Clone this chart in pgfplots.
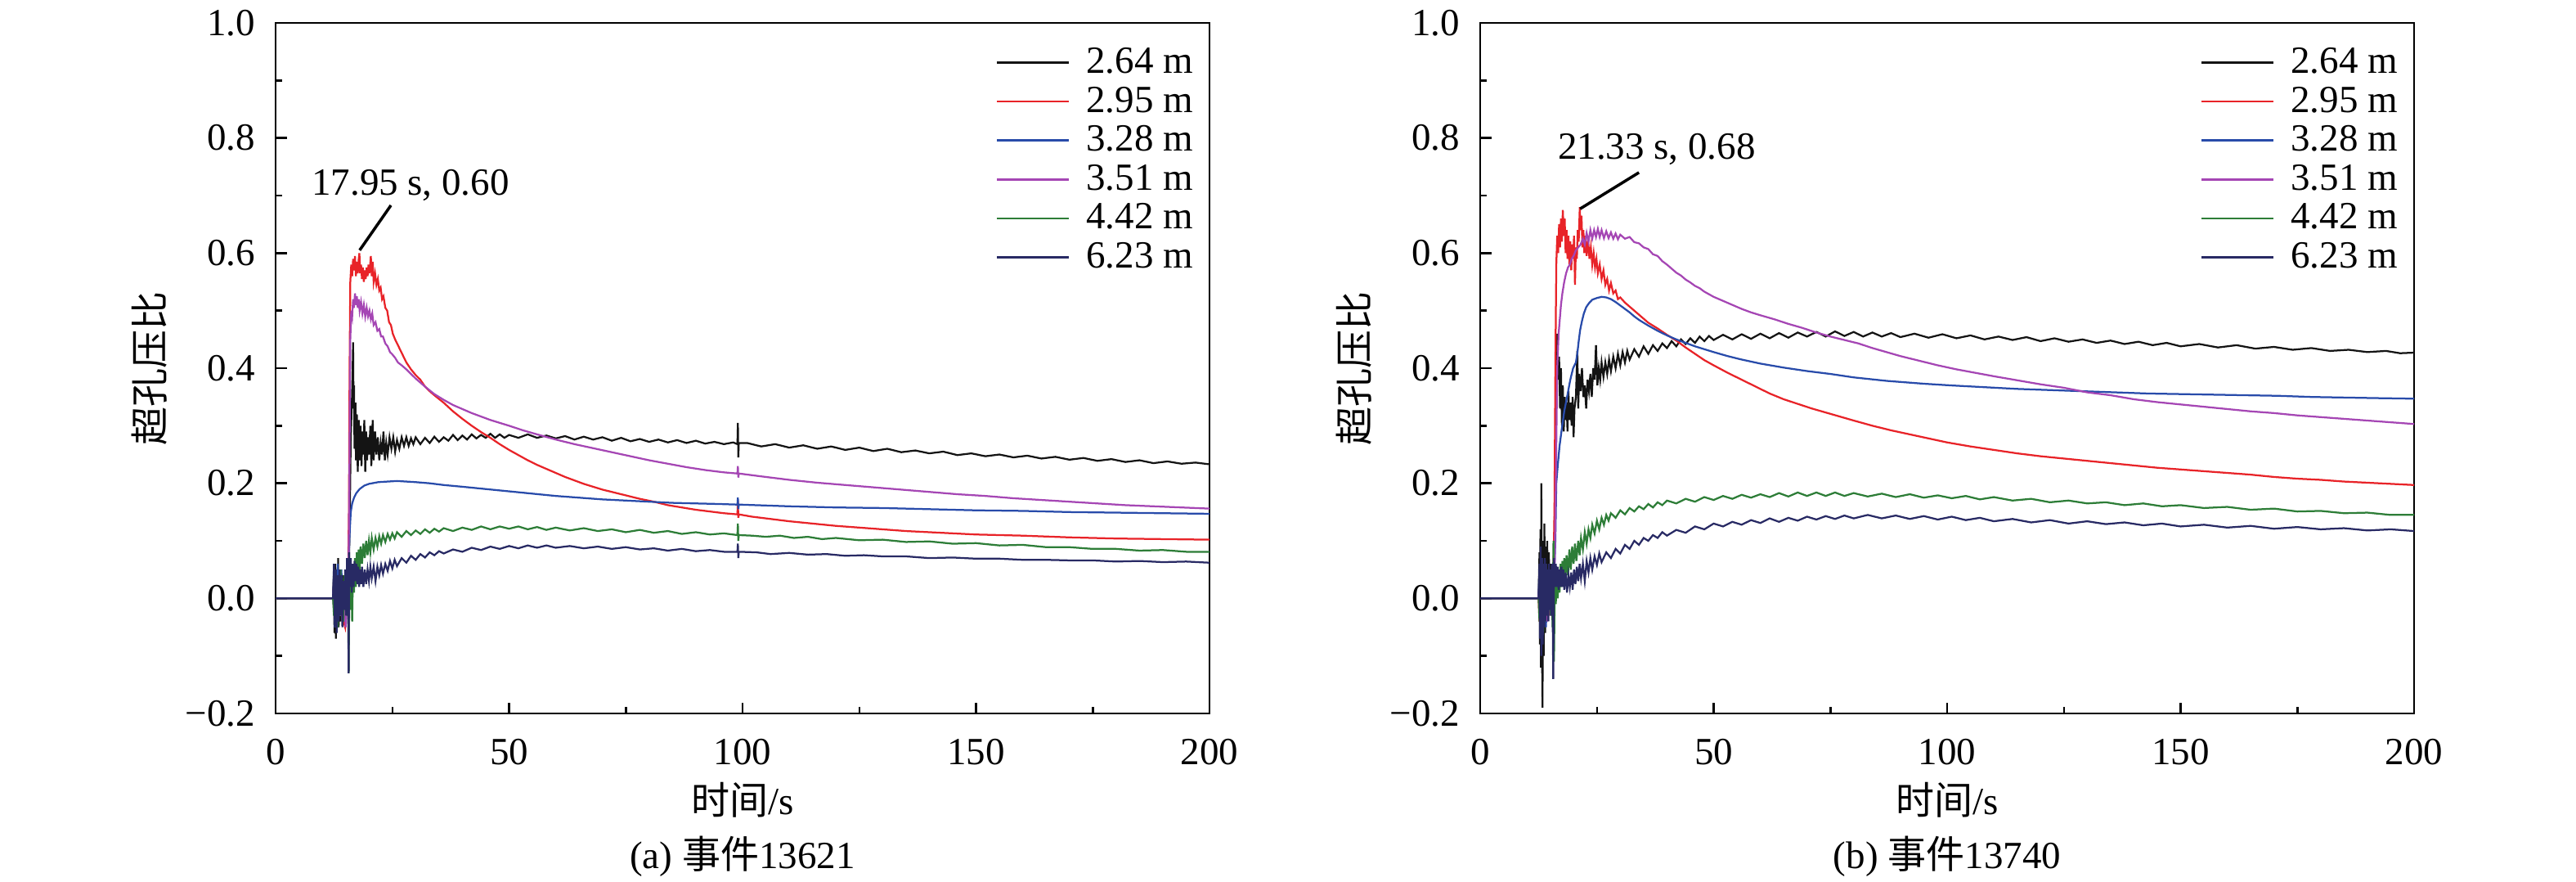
\documentclass[border=0pt]{standalone}
\usepackage{fontspec}
\setmainfont{Liberation Serif}
\newfontfamily\cjk{Noto Sans CJK SC}
\usepackage{pgfplots}
\pgfplotsset{compat=1.18}
\newcommand\fs{\fontsize{9.4}{10}\selectfont}
\definecolor{cblack}{RGB}{20,20,20}
\definecolor{cred}{RGB}{232,35,40}
\definecolor{cblue}{RGB}{40,75,170}
\definecolor{cpurple}{RGB}{165,70,180}
\definecolor{cgreen}{RGB}{45,125,55}
\definecolor{cnavy}{RGB}{40,42,100}
\pgfplotsset{
  myax/.style={scale only axis, width=228.4pt, height=168.8pt, anchor=south west,
    xmin=0, xmax=200, ymin=-0.2, ymax=1.0,
    xtick={0,50,100,150,200}, xticklabels={0,50,100,150,200},
    ytick={-0.2,0,0.2,0.4,0.6,0.8,1.0}, yticklabels={−0.2,0.0,0.2,0.4,0.6,0.8,1.0},
    minor x tick num=1, minor y tick num=1,
    tick align=inside, xtick pos=left, ytick pos=left,
    major tick length=2.7pt, minor tick length=1.6pt,
    every tick/.style={black, line width=0.5pt},
    axis line style={line width=0.55pt},
    tick label style={font=\fs},
    yticklabel style={inner sep=0pt, xshift=-4.8pt},
    xticklabel style={inner sep=0pt, yshift=-6pt},
    label style={font=\fs},
    ylabel={{\cjk 超孔压比}},
    xlabel={{\cjk 时间}/s},
    ylabel style={at={(axis description cs:-0.1349,0.5)}, anchor=center},
    xlabel style={at={(axis description cs:0.5,-0.1256)}, anchor=center},
    legend style={draw=none, fill=none, at={(1,1)}, anchor=north east,
      xshift=-3.8pt, yshift=-5.6pt, inner sep=0pt, row sep=1.72pt, font=\fs,
      nodes={inner sep=0pt, text height=6.5pt, text depth=1.3pt}},
    legend cell align=left,
    legend image code/.code={\draw[#1, line width=0.5pt] (0pt,0pt) -- (17.6pt,0pt); \path (21.6pt,0pt);},
    every axis plot/.append style={line width=0.45pt},
  }
}
\begin{document}
\begin{tikzpicture}
\useasboundingbox (0,0) rectangle (630pt,215.4pt);
% ---------------- (a) ----------------
\begin{axis}[myax, at={(67.4pt,41.0pt)}]
\addplot[cblack] coordinates {(0,0) (12.3,0) (12.5,0.05) (12.6,-0.06) (12.8,0.06) (12.9,-0.07) (13.1,0.04) (13.2,-0.03) (13.4,0.07) (13.5,-0.05) (13.7,0.05) (13.9,-0.04) (14.1,0.03) (14.3,-0.02) (14.5,0.04) (14.7,-0.03) (14.9,0.03) (15.1,-0.02) (15.3,0.05) (15.5,0.02) (15.7,0.05) (15.9,0.15) (16.1,0.28) (16.3,0.33) (16.5,0.40) (16.6,0.445) (16.7,0.33) (16.8,0.37) (16.9,0.26) (17.1,0.34) (17.2,0.24) (17.4,0.32) (17.6,0.22) (17.8,0.31) (18.0,0.24) (18.2,0.30) (18.4,0.23) (18.6,0.29) (18.8,0.25) (19.0,0.31) (19.2,0.22) (19.4,0.29) (19.6,0.24) (19.8,0.28) (20.0,0.25) (20.3,0.30) (20.5,0.23) (20.8,0.31) (21.0,0.24) (21.3,0.29) (21.6,0.25) (21.9,0.28) (22.2,0.24) (22.5,0.27) (22.8,0.25) (23.1,0.29) (23.4,0.24) (23.7,0.27) (24.0,0.25) (24.4,0.28) (24.8,0.26) (25.2,0.28) (25.6,0.255) (26.0,0.275) (26.5,0.26) (27.0,0.28) (27.5,0.265) (28.0,0.28) (28.5,0.265) (29.0,0.278) (29.5,0.268) (30,0.28) (31,0.268) (32,0.279) (33,0.27) (34,0.281) (35,0.272) (36,0.28) (37,0.274) (38,0.284) (39,0.275) (40,0.283) (41,0.276) (42,0.285) (43,0.278) (44,0.284) (45,0.279) (46,0.286) (47,0.279) (48,0.285) (49,0.279) (50,0.284) (52,0.279) (54,0.285) (56,0.279) (58,0.283) (60,0.278) (62,0.282) (64,0.276) (66,0.281) (68,0.276) (70,0.280) (72,0.274) (74,0.279) (76,0.273) (78,0.277) (80,0.272) (82,0.276) (84,0.271) (86,0.275) (88,0.270) (90,0.274) (92,0.269) (94,0.272) (96,0.268) (98,0.271) (98.9,0.268) (99.0,0.305) (99.1,0.245) (99.2,0.27) (101,0.27) (104,0.264) (107,0.268) (110,0.262) (113,0.266) (116,0.26) (119,0.264) (122,0.258) (125,0.262) (128,0.256) (131,0.26) (134,0.254) (137,0.257) (140,0.252) (143,0.255) (146,0.249) (149,0.252) (152,0.247) (155,0.25) (158,0.245) (161,0.248) (164,0.243) (167,0.246) (170,0.241) (173,0.244) (176,0.239) (179,0.242) (182,0.237) (185,0.24) (188,0.235) (191,0.238) (194,0.234) (197,0.236) (200,0.233)};
\addlegendentry{2.64 m}
\addplot[cred] coordinates {(0,0) (12.3,0) (12.5,0.03) (12.7,-0.04) (12.9,0.02) (13.1,-0.05) (13.3,0.03) (13.5,-0.02) (13.8,0.02) (14.0,-0.03) (14.3,0.01) (14.6,-0.04) (14.9,-0.05) (15.2,-0.02) (15.5,0.02) (15.7,0.15) (15.85,0.40) (16.0,0.55) (16.2,0.58) (16.4,0.56) (16.6,0.59) (16.8,0.57) (17.0,0.595) (17.2,0.56) (17.4,0.585) (17.6,0.565) (17.8,0.59) (17.95,0.60) (18.1,0.565) (18.3,0.58) (18.5,0.555) (18.7,0.575) (18.9,0.55) (19.1,0.57) (19.3,0.555) (19.5,0.575) (19.7,0.56) (19.9,0.58) (20.1,0.565) (20.4,0.595) (20.6,0.56) (20.8,0.585) (21.0,0.55) (21.3,0.565) (21.6,0.545) (21.9,0.555) (22.2,0.535) (22.5,0.54) (22.8,0.52) (23.1,0.525) (23.5,0.505) (23.9,0.50) (24.3,0.48) (24.7,0.475) (25.1,0.46) (25.6,0.45) (26.2,0.44) (26.8,0.43) (27.4,0.42) (28,0.41) (29,0.398) (30,0.388) (31,0.38) (32,0.368) (33,0.36) (34,0.353) (36,0.34) (38,0.325) (40,0.312) (42,0.300) (44,0.289) (46,0.279) (48,0.268) (50,0.258) (52,0.249) (54,0.240) (56,0.232) (58,0.225) (60,0.218) (62,0.211) (64,0.205) (66,0.199) (68,0.194) (70,0.189) (72,0.185) (75,0.179) (78,0.173) (81,0.168) (84,0.162) (87,0.158) (90,0.154) (93,0.151) (96,0.148) (98.9,0.146) (99,0.17) (99.1,0.14) (99.2,0.146) (102,0.142) (106,0.138) (110,0.134) (115,0.13) (120,0.126) (125,0.123) (130,0.12) (135,0.117) (140,0.115) (145,0.113) (150,0.111) (160,0.109) (170,0.106) (180,0.104) (190,0.103) (200,0.102)};
\addlegendentry{2.95 m}
\addplot[cblue] coordinates {(0,0) (12.3,0) (12.5,0.04) (12.7,-0.05) (12.9,0.05) (13.1,-0.04) (13.3,0.06) (13.5,-0.03) (13.7,0.04) (13.9,-0.03) (14.1,0.05) (14.3,-0.02) (14.5,0.03) (14.7,-0.04) (14.9,0.02) (15.1,-0.03) (15.3,0.06) (15.5,0.02) (15.7,0.08) (15.9,0.12) (16.1,0.15) (16.4,0.165) (16.8,0.175) (17.3,0.183) (18,0.19) (19,0.196) (20,0.199) (22,0.202) (24,0.203) (26,0.204) (28,0.203) (30,0.202) (33,0.200) (36,0.197) (40,0.194) (45,0.19) (50,0.186) (55,0.182) (60,0.178) (65,0.175) (70,0.172) (75,0.17) (80,0.168) (85,0.166) (90,0.165) (95,0.164) (98.9,0.163) (99,0.175) (99.1,0.155) (99.2,0.163) (110,0.16) (120,0.158) (130,0.157) (140,0.155) (150,0.153) (160,0.152) (170,0.150) (180,0.149) (190,0.148) (200,0.147)};
\addlegendentry{3.28 m}
\addplot[cpurple] coordinates {(0,0) (12.3,0) (12.5,-0.02) (12.7,0.03) (12.9,-0.05) (13.1,0.02) (13.3,-0.04) (13.5,0.03) (13.8,-0.03) (14.1,0.02) (14.4,-0.04) (14.7,0.01) (15.0,-0.05) (15.3,0.0) (15.6,0.03) (15.8,0.2) (16.0,0.45) (16.2,0.50) (16.4,0.49) (16.6,0.52) (16.8,0.505) (17.0,0.53) (17.2,0.51) (17.4,0.525) (17.6,0.505) (17.8,0.52) (18.0,0.50) (18.3,0.515) (18.6,0.495) (18.9,0.51) (19.2,0.49) (19.5,0.505) (19.8,0.49) (20.1,0.50) (20.4,0.485) (20.7,0.495) (21.0,0.475) (21.4,0.48) (21.8,0.465) (22.2,0.468) (22.6,0.455) (23.0,0.455) (23.5,0.443) (24,0.438) (24.5,0.428) (25,0.424) (25.6,0.418) (26.2,0.41) (27,0.405) (28,0.398) (29,0.39) (30,0.382) (31,0.375) (32,0.368) (34,0.355) (36,0.345) (38,0.336) (40,0.329) (42,0.322) (44,0.316) (46,0.31) (48,0.305) (50,0.30) (53,0.292) (56,0.285) (60,0.276) (64,0.268) (68,0.261) (72,0.254) (76,0.247) (80,0.240) (84,0.234) (88,0.228) (92,0.223) (96,0.219) (98.9,0.217) (99,0.23) (99.1,0.21) (99.2,0.217) (104,0.212) (110,0.206) (116,0.201) (122,0.197) (128,0.193) (134,0.189) (140,0.185) (146,0.181) (152,0.178) (158,0.174) (164,0.171) (170,0.168) (176,0.165) (182,0.162) (188,0.160) (194,0.158) (200,0.156)};
\addlegendentry{3.51 m}
\addplot[cgreen] coordinates {(0,0) (12.3,0) (12.5,-0.03) (12.7,0.04) (12.9,-0.04) (13.1,0.03) (13.3,-0.05) (13.5,0.04) (13.7,-0.03) (13.9,0.05) (14.1,-0.02) (14.3,0.03) (14.5,-0.04) (14.7,0.04) (14.9,-0.02) (15.1,0.05) (15.3,-0.03) (15.5,0.06) (15.65,-0.13) (15.8,0.03) (16.0,-0.02) (16.2,0.05) (16.4,-0.04) (16.6,0.06) (16.8,0.01) (17.0,0.07) (17.2,0.02) (17.4,0.08) (17.6,0.04) (17.8,0.085) (18.0,0.05) (18.2,0.09) (18.5,0.06) (18.8,0.095) (19.1,0.07) (19.4,0.10) (19.7,0.075) (20.0,0.10) (20.3,0.08) (20.6,0.105) (21,0.085) (21.4,0.105) (21.8,0.09) (22.2,0.108) (22.6,0.095) (23,0.11) (23.5,0.098) (24,0.112) (24.5,0.102) (25,0.113) (25.5,0.104) (26,0.115) (27,0.107) (28,0.117) (29,0.11) (30,0.118) (31,0.112) (32,0.12) (33,0.114) (34,0.121) (35,0.116) (36,0.122) (38,0.117) (40,0.123) (42,0.119) (44,0.125) (46,0.12) (48,0.125) (50,0.121) (52,0.125) (54,0.12) (56,0.124) (58,0.119) (60,0.123) (63,0.118) (66,0.122) (69,0.117) (72,0.12) (75,0.115) (78,0.119) (81,0.114) (84,0.117) (87,0.112) (90,0.115) (93,0.111) (96,0.113) (98.9,0.11) (99,0.13) (99.1,0.10) (99.2,0.11) (102,0.109) (105,0.107) (108,0.109) (111,0.105) (114,0.107) (117,0.103) (120,0.105) (125,0.101) (130,0.102) (135,0.098) (140,0.099) (145,0.095) (150,0.096) (155,0.092) (160,0.093) (165,0.089) (170,0.089) (175,0.086) (180,0.086) (185,0.083) (190,0.084) (195,0.081) (200,0.081)};
\addlegendentry{4.42 m}
\addplot[cnavy] coordinates {(0,0) (12.3,0) (12.5,0.06) (12.7,-0.05) (12.9,0.05) (13.1,-0.06) (13.3,0.04) (13.5,-0.04) (13.7,0.05) (13.9,-0.03) (14.1,0.04) (14.3,-0.05) (14.5,0.03) (14.7,-0.02) (14.9,0.05) (15.1,-0.03) (15.3,0.07) (15.5,0.02) (15.65,-0.13) (15.75,0.08) (15.9,0.02) (16.1,0.07) (16.3,0.01) (16.5,0.06) (16.7,0.02) (16.9,0.065) (17.1,0.03) (17.3,0.06) (17.5,0.025) (17.7,0.055) (17.9,0.02) (18.1,0.05) (18.3,0.025) (18.5,0.055) (18.8,0.02) (19.1,0.05) (19.4,0.025) (19.7,0.05) (20,0.03) (20.3,0.055) (20.6,0.035) (21,0.055) (21.4,0.03) (21.8,0.055) (22.2,0.04) (22.6,0.058) (23,0.043) (23.5,0.06) (24,0.048) (24.5,0.065) (25,0.052) (25.5,0.067) (26,0.056) (27,0.07) (28,0.062) (29,0.074) (30,0.067) (31,0.077) (32,0.071) (33,0.08) (34,0.075) (35,0.082) (36,0.078) (38,0.085) (40,0.081) (42,0.088) (44,0.084) (46,0.09) (48,0.086) (50,0.091) (52,0.087) (54,0.092) (56,0.088) (58,0.092) (60,0.088) (63,0.091) (66,0.087) (69,0.090) (72,0.086) (75,0.089) (78,0.085) (81,0.087) (84,0.083) (87,0.086) (90,0.082) (93,0.084) (96,0.081) (98.9,0.081) (99,0.095) (99.1,0.07) (99.2,0.081) (103,0.08) (106,0.077) (110,0.079) (114,0.076) (118,0.077) (122,0.074) (126,0.075) (130,0.073) (135,0.073) (140,0.07) (145,0.071) (150,0.069) (155,0.069) (160,0.067) (165,0.067) (170,0.066) (175,0.066) (180,0.064) (185,0.065) (190,0.063) (195,0.064) (200,0.062)};
\addlegendentry{6.23 m}
\draw[black, line width=0.7pt] (axis cs:24.7,0.683) -- (axis cs:18.0,0.605);
\node[font=\fs, inner sep=0pt] at (axis cs:28.9,0.718) {17.95 s, 0.60};
\end{axis}
\node[font=\fs, anchor=center] at (181.6pt,6.0pt) {(a) {\cjk 事件}13621};
% ---------------- (b) ----------------
\begin{axis}[myax, at={(362pt,41.0pt)}]
\addplot[cblack] coordinates {(0,0) (12.5,0) (12.7,0.08) (12.8,-0.08) (12.9,0.12) (13.0,-0.12) (13.1,0.20) (13.2,-0.05) (13.35,-0.19) (13.5,0.10) (13.6,-0.10) (13.75,0.13) (13.9,-0.06) (14.05,0.09) (14.2,-0.04) (14.35,0.10) (14.5,0.02) (14.7,0.08) (14.9,0.0) (15.1,0.06) (15.3,-0.02) (15.5,0.05) (15.7,0.02) (15.9,0.10) (16.1,0.25) (16.3,0.35) (16.5,0.46) (16.7,0.38) (16.9,0.42) (17.1,0.33) (17.3,0.40) (17.5,0.30) (17.7,0.37) (17.9,0.29) (18.1,0.35) (18.3,0.31) (18.5,0.34) (18.7,0.29) (18.9,0.36) (19.1,0.31) (19.3,0.34) (19.6,0.30) (19.8,0.35) (20.0,0.28) (20.2,0.33) (20.5,0.35) (20.8,0.43) (21.0,0.33) (21.2,0.39) (21.5,0.36) (21.8,0.40) (22.1,0.35) (22.4,0.37) (22.7,0.33) (23.0,0.38) (23.3,0.36) (23.6,0.39) (23.9,0.35) (24.2,0.40) (24.5,0.38) (24.8,0.44) (25.1,0.37) (25.4,0.40) (25.7,0.38) (26,0.41) (26.4,0.385) (26.8,0.41) (27.2,0.39) (27.6,0.415) (28,0.395) (28.5,0.42) (29,0.40) (29.5,0.425) (30,0.405) (30.5,0.428) (31,0.41) (31.5,0.43) (32,0.415) (33,0.433) (34,0.42) (35,0.438) (36,0.425) (37,0.44) (38,0.43) (39,0.443) (40,0.435) (41,0.447) (42,0.438) (43,0.45) (44,0.442) (45,0.452) (46,0.444) (47,0.455) (48,0.447) (49,0.456) (50,0.449) (52,0.458) (54,0.45) (56,0.459) (58,0.451) (60,0.46) (62,0.452) (64,0.461) (66,0.453) (68,0.462) (70,0.455) (72,0.463) (74,0.455) (76,0.464) (78,0.456) (80,0.463) (82,0.455) (84,0.462) (86,0.455) (88,0.461) (90,0.454) (93,0.46) (96,0.453) (99,0.459) (102,0.452) (105,0.457) (108,0.45) (111,0.455) (114,0.449) (117,0.454) (120,0.447) (123,0.452) (126,0.446) (129,0.45) (132,0.444) (135,0.448) (138,0.442) (141,0.446) (144,0.44) (147,0.444) (150,0.438) (154,0.442) (158,0.436) (162,0.44) (166,0.434) (170,0.437) (174,0.432) (178,0.435) (182,0.43) (186,0.432) (190,0.428) (194,0.43) (197,0.426) (200,0.427)};
\addlegendentry{2.64 m}
\addplot[cred] coordinates {(0,0) (12.5,0) (12.7,-0.04) (12.9,0.05) (13.1,-0.06) (13.3,0.03) (13.5,-0.05) (13.7,0.04) (13.9,-0.03) (14.1,0.05) (14.3,-0.02) (14.5,0.04) (14.7,-0.03) (14.9,0.03) (15.1,-0.02) (15.3,0.03) (15.6,0.01) (15.9,0.15) (16.1,0.40) (16.3,0.58) (16.5,0.63) (16.7,0.60) (16.9,0.65) (17.1,0.61) (17.3,0.66) (17.5,0.62) (17.7,0.675) (17.9,0.63) (18.1,0.66) (18.3,0.60) (18.5,0.64) (18.7,0.59) (18.9,0.63) (19.1,0.58) (19.3,0.62) (19.5,0.57) (19.7,0.615) (19.9,0.59) (20.1,0.63) (20.3,0.545) (20.5,0.61) (20.7,0.59) (20.9,0.64) (21.1,0.62) (21.33,0.68) (21.5,0.64) (21.7,0.665) (21.9,0.61) (22.1,0.64) (22.3,0.60) (22.5,0.63) (22.8,0.595) (23.1,0.625) (23.4,0.59) (23.7,0.61) (24,0.58) (24.3,0.60) (24.6,0.575) (24.9,0.59) (25.2,0.565) (25.6,0.58) (26,0.555) (26.4,0.57) (26.8,0.545) (27.2,0.555) (27.6,0.535) (28,0.548) (28.5,0.53) (29,0.535) (29.5,0.52) (30,0.523) (31,0.514) (32,0.507) (33,0.50) (34,0.493) (35,0.486) (36,0.479) (38,0.469) (40,0.458) (42,0.448) (44,0.436) (46,0.425) (48,0.414) (50,0.405) (53,0.392) (56,0.38) (59,0.368) (62,0.356) (65,0.346) (68,0.338) (71,0.33) (74,0.323) (77,0.316) (80,0.309) (84,0.30) (88,0.292) (92,0.285) (96,0.278) (100,0.271) (105,0.264) (110,0.258) (115,0.252) (120,0.247) (125,0.243) (130,0.239) (135,0.235) (140,0.231) (145,0.227) (150,0.224) (155,0.221) (160,0.218) (165,0.215) (170,0.211) (175,0.208) (180,0.206) (185,0.203) (190,0.201) (195,0.199) (200,0.197)};
\addlegendentry{2.95 m}
\addplot[cblue] coordinates {(0,0) (12.5,0) (12.7,0.05) (12.9,-0.06) (13.1,0.04) (13.3,-0.07) (13.5,0.06) (13.7,-0.04) (13.9,0.05) (14.1,-0.05) (14.3,0.04) (14.5,-0.03) (14.7,0.05) (14.9,-0.02) (15.1,0.04) (15.3,0.0) (15.5,0.05) (15.8,0.03) (16.1,0.10) (16.3,0.20) (16.6,0.23) (17.0,0.265) (17.5,0.296) (18.0,0.325) (18.7,0.354) (19.3,0.38) (19.9,0.40) (20.5,0.41) (20.8,0.425) (21.1,0.447) (21.4,0.466) (21.8,0.482) (22.2,0.495) (22.7,0.506) (23.3,0.513) (24,0.519) (25,0.522) (26,0.524) (27,0.523) (28,0.52) (29,0.515) (30,0.509) (31,0.503) (32,0.497) (33,0.49) (34,0.484) (36,0.474) (38,0.465) (40,0.457) (42,0.45) (44,0.444) (46,0.438) (48,0.433) (50,0.428) (53,0.421) (56,0.415) (60,0.408) (65,0.401) (70,0.395) (75,0.39) (80,0.384) (87,0.378) (95,0.373) (101,0.37) (108,0.367) (115,0.364) (122,0.362) (129,0.36) (136,0.358) (143,0.356) (150,0.355) (157,0.354) (164,0.353) (171,0.352) (178,0.35) (185,0.349) (192,0.348) (200,0.347)};
\addlegendentry{3.28 m}
\addplot[cpurple] coordinates {(0,0) (12.5,0) (12.7,0.03) (12.9,-0.04) (13.1,0.02) (13.3,-0.05) (13.5,0.03) (13.8,-0.03) (14.1,0.02) (14.4,-0.04) (14.7,0.02) (15.0,-0.03) (15.3,0.01) (15.6,-0.02) (15.9,0.03) (16.2,0.2) (16.5,0.40) (16.8,0.46) (17.0,0.48) (17.3,0.51) (17.6,0.53) (18.0,0.55) (18.4,0.565) (18.8,0.575) (19.2,0.58) (19.6,0.59) (20,0.595) (20.5,0.605) (21,0.61) (21.5,0.615) (22,0.625) (22.4,0.615) (22.8,0.635) (23.2,0.62) (23.6,0.64) (24,0.625) (24.4,0.64) (24.8,0.628) (25.2,0.642) (25.6,0.628) (26,0.64) (26.5,0.626) (27,0.638) (27.5,0.626) (28,0.636) (28.5,0.625) (29,0.634) (29.5,0.624) (30,0.632) (31,0.625) (32,0.628) (33,0.619) (34,0.617) (35,0.61) (36,0.607) (37,0.598) (38,0.595) (39,0.586) (40,0.58) (41,0.573) (42,0.566) (43,0.561) (44,0.554) (45,0.549) (46,0.543) (47,0.539) (48,0.533) (50,0.524) (52,0.517) (54,0.51) (56,0.503) (58,0.497) (60,0.492) (63,0.485) (66,0.477) (69,0.47) (72,0.462) (75,0.455) (78,0.449) (81,0.443) (84,0.435) (87,0.428) (90,0.421) (94,0.413) (98,0.405) (102,0.398) (106,0.392) (110,0.386) (115,0.379) (120,0.372) (125,0.366) (130,0.358) (135,0.353) (140,0.346) (145,0.341) (150,0.337) (155,0.333) (160,0.329) (165,0.325) (170,0.322) (175,0.318) (180,0.315) (185,0.312) (190,0.309) (195,0.306) (200,0.303)};
\addlegendentry{3.51 m}
\addplot[cgreen] coordinates {(0,0) (12.5,0) (12.7,-0.04) (12.9,0.05) (13.1,-0.05) (13.3,0.04) (13.5,-0.06) (13.7,0.05) (13.9,-0.04) (14.1,0.06) (14.3,-0.03) (14.5,0.05) (14.7,-0.02) (14.9,0.04) (15.1,-0.03) (15.3,0.05) (15.5,-0.05) (15.7,0.10) (15.8,-0.11) (16.0,0.03) (16.2,-0.01) (16.4,0.04) (16.6,0.0) (16.8,0.05) (17.0,0.01) (17.2,0.06) (17.4,0.02) (17.6,0.065) (17.8,0.03) (18.0,0.07) (18.2,0.035) (18.5,0.075) (18.8,0.04) (19.1,0.085) (19.4,0.05) (19.7,0.09) (20,0.06) (20.3,0.095) (20.6,0.065) (21,0.10) (21.3,0.075) (21.6,0.105) (22,0.085) (22.4,0.115) (22.8,0.095) (23.2,0.12) (23.6,0.105) (24,0.128) (24.5,0.113) (25,0.135) (25.5,0.12) (26,0.14) (26.5,0.128) (27,0.145) (27.5,0.135) (28,0.148) (29,0.14) (30,0.153) (31,0.146) (32,0.157) (33,0.151) (34,0.16) (35,0.155) (36,0.164) (37,0.158) (38,0.167) (39,0.162) (40,0.17) (42,0.165) (44,0.173) (46,0.168) (48,0.176) (50,0.171) (52,0.178) (54,0.173) (56,0.18) (58,0.175) (60,0.181) (62,0.176) (64,0.183) (66,0.177) (68,0.184) (70,0.178) (72,0.184) (74,0.178) (76,0.184) (78,0.178) (80,0.183) (83,0.177) (86,0.182) (89,0.176) (92,0.181) (95,0.175) (98,0.179) (101,0.174) (104,0.178) (107,0.172) (110,0.176) (114,0.17) (118,0.173) (122,0.167) (126,0.17) (130,0.165) (134,0.167) (138,0.162) (142,0.165) (146,0.16) (150,0.162) (155,0.157) (160,0.159) (165,0.154) (170,0.156) (175,0.151) (180,0.152) (185,0.148) (190,0.149) (195,0.145) (200,0.145)};
\addlegendentry{4.42 m}
\addplot[cnavy] coordinates {(0,0) (12.5,0) (12.7,0.06) (12.8,-0.07) (12.95,0.09) (13.1,-0.10) (13.25,0.07) (13.4,-0.08) (13.55,0.06) (13.7,-0.05) (13.85,0.07) (14.0,-0.04) (14.15,0.06) (14.3,-0.03) (14.45,0.05) (14.6,-0.04) (14.75,0.06) (14.9,-0.02) (15.05,0.05) (15.2,-0.03) (15.35,0.06) (15.5,0.0) (15.65,-0.14) (15.8,0.07) (16.0,0.02) (16.2,0.06) (16.4,0.02) (16.6,0.055) (16.8,0.015) (17.0,0.05) (17.2,0.02) (17.4,0.055) (17.6,0.02) (17.8,0.05) (18.0,0.015) (18.3,0.045) (18.6,0.01) (18.9,0.04) (19.2,0.02) (19.5,0.045) (19.8,0.015) (20.1,0.05) (20.4,0.025) (20.7,0.055) (21,0.03) (21.3,0.06) (21.6,0.035) (22,0.06) (22.4,0.03) (22.8,0.065) (23.2,0.045) (23.6,0.07) (24,0.05) (24.5,0.073) (25,0.058) (25.5,0.078) (26,0.063) (27,0.08) (28,0.07) (29,0.086) (30,0.078) (31,0.093) (32,0.086) (33,0.1) (34,0.093) (35,0.105) (36,0.1) (37,0.11) (38,0.105) (39,0.115) (40,0.109) (42,0.119) (44,0.114) (46,0.125) (48,0.12) (50,0.13) (52,0.125) (54,0.133) (56,0.128) (58,0.136) (60,0.131) (62,0.139) (64,0.133) (66,0.14) (68,0.135) (70,0.142) (72,0.137) (74,0.143) (76,0.138) (78,0.144) (80,0.139) (83,0.145) (86,0.139) (89,0.144) (92,0.138) (95,0.143) (98,0.137) (101,0.142) (104,0.136) (107,0.14) (110,0.134) (114,0.138) (118,0.132) (122,0.136) (126,0.13) (130,0.134) (134,0.129) (138,0.132) (142,0.127) (146,0.13) (150,0.125) (155,0.128) (160,0.123) (165,0.126) (170,0.121) (175,0.124) (180,0.12) (185,0.122) (190,0.118) (195,0.12) (200,0.117)};
\addlegendentry{6.23 m}
\draw[black, line width=0.7pt] (axis cs:34.0,0.740) -- (axis cs:21.4,0.677);
\node[font=\fs, inner sep=0pt] at (axis cs:37.8,0.781) {21.33 s, 0.68};
\end{axis}
\node[font=\fs, anchor=center] at (476.2pt,6.0pt) {(b) {\cjk 事件}13740};
\end{tikzpicture}
\end{document}
